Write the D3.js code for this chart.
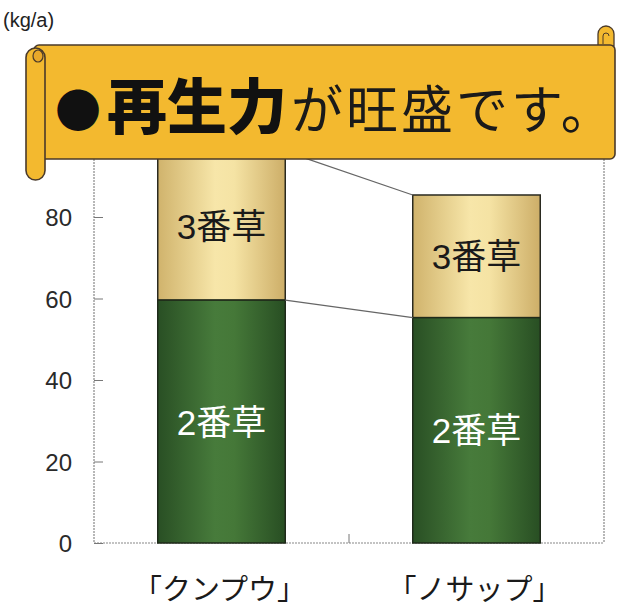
<!DOCTYPE html>
<html>
<head>
<meta charset="utf-8">
<script src="https://cdn.jsdelivr.net/npm/d3@7"></script>
<style>
  body { margin: 0; background: #fff; }
  svg text { font-family: "Liberation Sans", "Noto Sans CJK JP", sans-serif; }
</style>
</head>
<body>
<svg id="chart" width="618" height="610"></svg>
<script>
// データ
const categories = ['「クンプウ」', '「ノサップ」'];
const second = [59.6, 55.3];   // 2番草
const third = [36.5, 30.1];    // 3番草
const yTicks = [0, 20, 40, 60, 80];
const seriesNames = ['2番草', '3番草'];

const svg = d3.select('#chart');
const left = 94, right = 604, bottom = 543;

const x = d3.scaleBand()
  .domain(categories)
  .range([left, right])
  .paddingInner(0.5)
  .paddingOuter(0.25);
const y = d3.scaleLinear().domain([0, 100]).range([bottom, 135.5]);

// グラデーション
const defs = svg.append('defs');
const grad = (id, stops) => {
  const g = defs.append('linearGradient').attr('id', id)
    .attr('x1', '0%').attr('x2', '100%').attr('y1', '0%').attr('y2', '0%');
  stops.forEach(s => g.append('stop').attr('offset', s[0]).attr('stop-color', s[1]));
};
grad('g3', [['0%', '#d0b36c'], ['45%', '#f7e6a9'], ['60%', '#f5e3a4'], ['100%', '#cdae68']]);
grad('g2', [['0%', '#294f24'], ['45%', '#477b3b'], ['60%', '#457838'], ['100%', '#284e23']]);

// 枠
const frame = svg.append('g')
  .attr('stroke', '#888').attr('stroke-width', 1.2)
  .attr('stroke-dasharray', '2,1').attr('fill', 'none');
frame.append('line').attr('x1', left).attr('x2', left).attr('y1', 150).attr('y2', bottom);
frame.append('line').attr('x1', right).attr('x2', right).attr('y1', 150).attr('y2', bottom);
frame.append('line').attr('x1', left).attr('x2', right).attr('y1', bottom).attr('y2', bottom);

// y軸
const yAxis = svg.append('g')
  .attr('transform', `translate(${left},0)`)
  .call(d3.axisRight(y).tickValues(yTicks).tickSize(9).tickFormat(''));
yAxis.select('.domain').remove();
yAxis.selectAll('line').attr('stroke', '#777');
svg.append('g').selectAll('text')
  .data(yTicks)
  .enter()
  .append('text')
  .attr('x', 72)
  .attr('y', d => y(d) + 9)
  .attr('text-anchor', 'end')
  .attr('font-size', 24)
  .attr('fill', '#2a2a2a')
  .text(d => d);

// 中央の目盛り
svg.append('line')
  .attr('x1', (x(categories[0]) + x.bandwidth() + x(categories[1])) / 2)
  .attr('x2', (x(categories[0]) + x.bandwidth() + x(categories[1])) / 2)
  .attr('y1', bottom).attr('y2', bottom - 9)
  .attr('stroke', '#777');

// 棒
const bars = svg.append('g');
categories.forEach((c, i) => {
  const bx = x(c), bw = x.bandwidth();
  bars.append('rect')
    .attr('x', bx).attr('y', y(second[i] + third[i]))
    .attr('width', bw).attr('height', y(second[i]) - y(second[i] + third[i]))
    .attr('fill', 'url(#g3)').attr('stroke', '#2a2a20').attr('stroke-width', 1.5);
  bars.append('rect')
    .attr('x', bx).attr('y', y(second[i]))
    .attr('width', bw).attr('height', y(0) - y(second[i]))
    .attr('fill', 'url(#g2)').attr('stroke', '#1f2a1a').attr('stroke-width', 1.5);
  bars.append('text')
    .attr('x', bx + bw / 2)
    .attr('y', (y(second[i]) + y(second[i] + third[i])) / 2 + 13)
    .attr('text-anchor', 'middle').attr('font-size', 35).attr('fill', '#1a1a1a')
    .text(seriesNames[1]);
  bars.append('text')
    .attr('x', bx + bw / 2)
    .attr('y', y(second[i] / 2) + 13)
    .attr('text-anchor', 'middle').attr('font-size', 35).attr('fill', '#fff')
    .text(seriesNames[0]);
  svg.append('text')
    .attr('x', bx + bw / 2 - 2)
    .attr('y', 600)
    .attr('text-anchor', 'middle').attr('font-size', 29).attr('fill', '#1a1a1a')
    .text(c);
});

// 連結線
const c0 = categories[0], c1 = categories[1];
const links = [
  [second[0] + third[0], second[1] + third[1]],
  [second[0], second[1]]
];
svg.append('g').selectAll('line')
  .data(links)
  .enter()
  .append('line')
  .attr('x1', x(c0) + x.bandwidth())
  .attr('y1', d => y(d[0]))
  .attr('x2', x(c1))
  .attr('y2', d => y(d[1]))
  .attr('stroke', '#666').attr('stroke-width', 1.3);

// 単位
svg.append('text')
  .attr('x', 3).attr('y', 27)
  .attr('font-size', 20).attr('fill', '#222')
  .text('(kg/a)');

// 巻物風のバナー
const banner = svg.append('g');
const gold = '#f3b92f', edge = '#4a3a2a';
// 右上の巻き
banner.append('path')
  .attr('d', 'M598,46 L598,34 A8,8 0 1 1 614,34 L614,46 Z')
  .attr('fill', gold).attr('stroke', edge).attr('stroke-width', 1.3);
banner.append('path')
  .attr('d', 'M603,44 L603,36 A3,3 0 1 1 609,36')
  .attr('fill', 'none').attr('stroke', edge).attr('stroke-width', 1);
// 本体
banner.append('rect')
  .attr('x', 34).attr('y', 45).attr('width', 581).attr('height', 114).attr('rx', 5)
  .attr('fill', gold).attr('stroke', edge).attr('stroke-width', 1.6);
// 左の巻き
banner.append('rect')
  .attr('x', 26).attr('y', 48).attr('width', 19).attr('height', 132).attr('rx', 9.5)
  .attr('fill', gold).attr('stroke', edge).attr('stroke-width', 1.6);
banner.append('ellipse')
  .attr('cx', 38).attr('cy', 56).attr('rx', 5).attr('ry', 6)
  .attr('fill', '#e8a82a').attr('stroke', edge).attr('stroke-width', 1.2);

const title = banner.append('text')
  .attr('x', 55).attr('y', 129)
  .style('font-family', '"Noto Sans CJK JP", sans-serif');
title.append('tspan').attr('font-size', 46).attr('font-weight', 900).attr('fill', '#111')
  .attr('dy', -2)
  .text('●');
title.append('tspan').attr('font-size', 60).attr('font-weight', 900).attr('fill', '#111')
  .attr('dy', 2).attr('dx', 6)
  .text('再生力');
title.append('tspan').attr('font-size', 52).attr('fill', '#1a1a1a')
  .attr('letter-spacing', 3).attr('dx', 4)
  .text('が旺盛です。');
</script>
</body>
</html>
